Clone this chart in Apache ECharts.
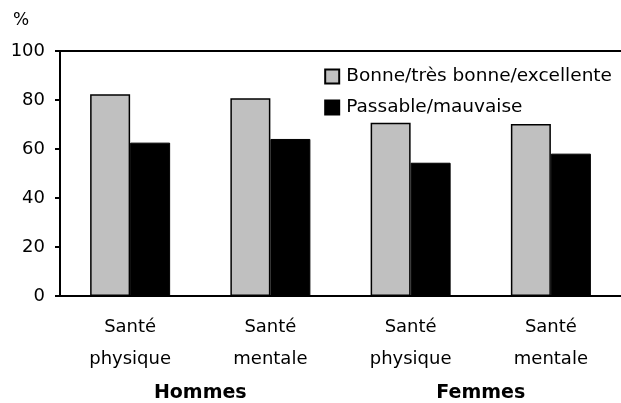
<!DOCTYPE html>
<html>
<head>
<meta charset="utf-8">
<script src="https://cdn.jsdelivr.net/npm/echarts@6/dist/echarts.min.js"></script>
<style>
  html, body { margin: 0; padding: 0; background: #fff; }
  #chart { width: 621px; height: 403px; }
</style>
</head>
<body>
<div id="chart"></div>
<script>
const categories = ['Santé\nphysique', 'Santé\nmentale', 'Santé\nphysique', 'Santé\nmentale']
const groups = ['Hommes', 'Femmes']
const seriesNames = ['Bonne/très bonne/excellente', 'Passable/mauvaise']
const bonneValues = [82.3, 80.7, 70.7, 70.2]
const passableValues = [62.6, 64.1, 54.4, 58.1]
const yTicks = [0, 20, 40, 60, 80, 100]

const font = 'DejaVu Sans'
const chart = echarts.init(document.getElementById('chart'), null, { renderer: 'canvas' })

chart.setOption({
  animation: false,
  backgroundColor: '#fff',
  textStyle: { fontFamily: font, color: '#000' },
  grid: {
    left: 60,
    right: 0,
    top: 51,
    bottom: 107
  },
  legend: {
    orient: 'vertical',
    right: 4,
    top: 62,
    icon: 'rect',
    itemWidth: 14,
    itemHeight: 14,
    itemGap: 12,
    textStyle: { fontFamily: font, fontSize: 18.5, color: '#000', padding: [0, 0, 0, 2] },
    data: seriesNames
  },
  graphic: [{
    type: 'text',
    left: 13,
    top: 12,
    style: { text: '%', font: '17px "DejaVu Sans"', fill: '#000' }
  }],
  xAxis: [{
    type: 'category',
    data: categories,
    axisLine: { lineStyle: { color: '#000', width: 2 } },
    axisTick: { show: false },
    axisLabel: { fontFamily: font, fontSize: 18, color: '#000', lineHeight: 32, margin: 15 }
  }, {
    type: 'category',
    data: groups,
    position: 'bottom',
    offset: 80,
    axisLine: { show: false },
    axisTick: { show: false },
    axisLabel: { fontFamily: font, fontSize: 19, fontWeight: 'bold', color: '#000' }
  }, {
    // top frame line only
    type: 'category',
    data: groups,
    position: 'top',
    axisLine: { show: true, lineStyle: { color: '#000', width: 2 } },
    axisTick: { show: false },
    axisLabel: { show: false }
  }],
  yAxis: {
    type: 'value',
    min: yTicks[0],
    max: yTicks[yTicks.length - 1],
    interval: 20,
    axisLine: { show: true, lineStyle: { color: '#000', width: 2 } },
    axisTick: { show: true, inside: false, length: 5, lineStyle: { color: '#000', width: 2 } },
    splitLine: { show: false },
    axisLabel: { fontFamily: font, fontSize: 18, color: '#000', margin: 15 }
  },
  series: [{
    name: seriesNames[0],
    type: 'bar',
    data: bonneValues,
    barWidth: 40,
    barGap: '0%',
    itemStyle: { color: '#c0c0c0', borderColor: '#000', borderWidth: 1.5 }
  }, {
    name: seriesNames[1],
    type: 'bar',
    data: passableValues,
    barWidth: 40,
    barGap: '0%',
    itemStyle: { color: '#000', borderColor: '#000', borderWidth: 1 }
  }]
})
</script>
</body>
</html>
